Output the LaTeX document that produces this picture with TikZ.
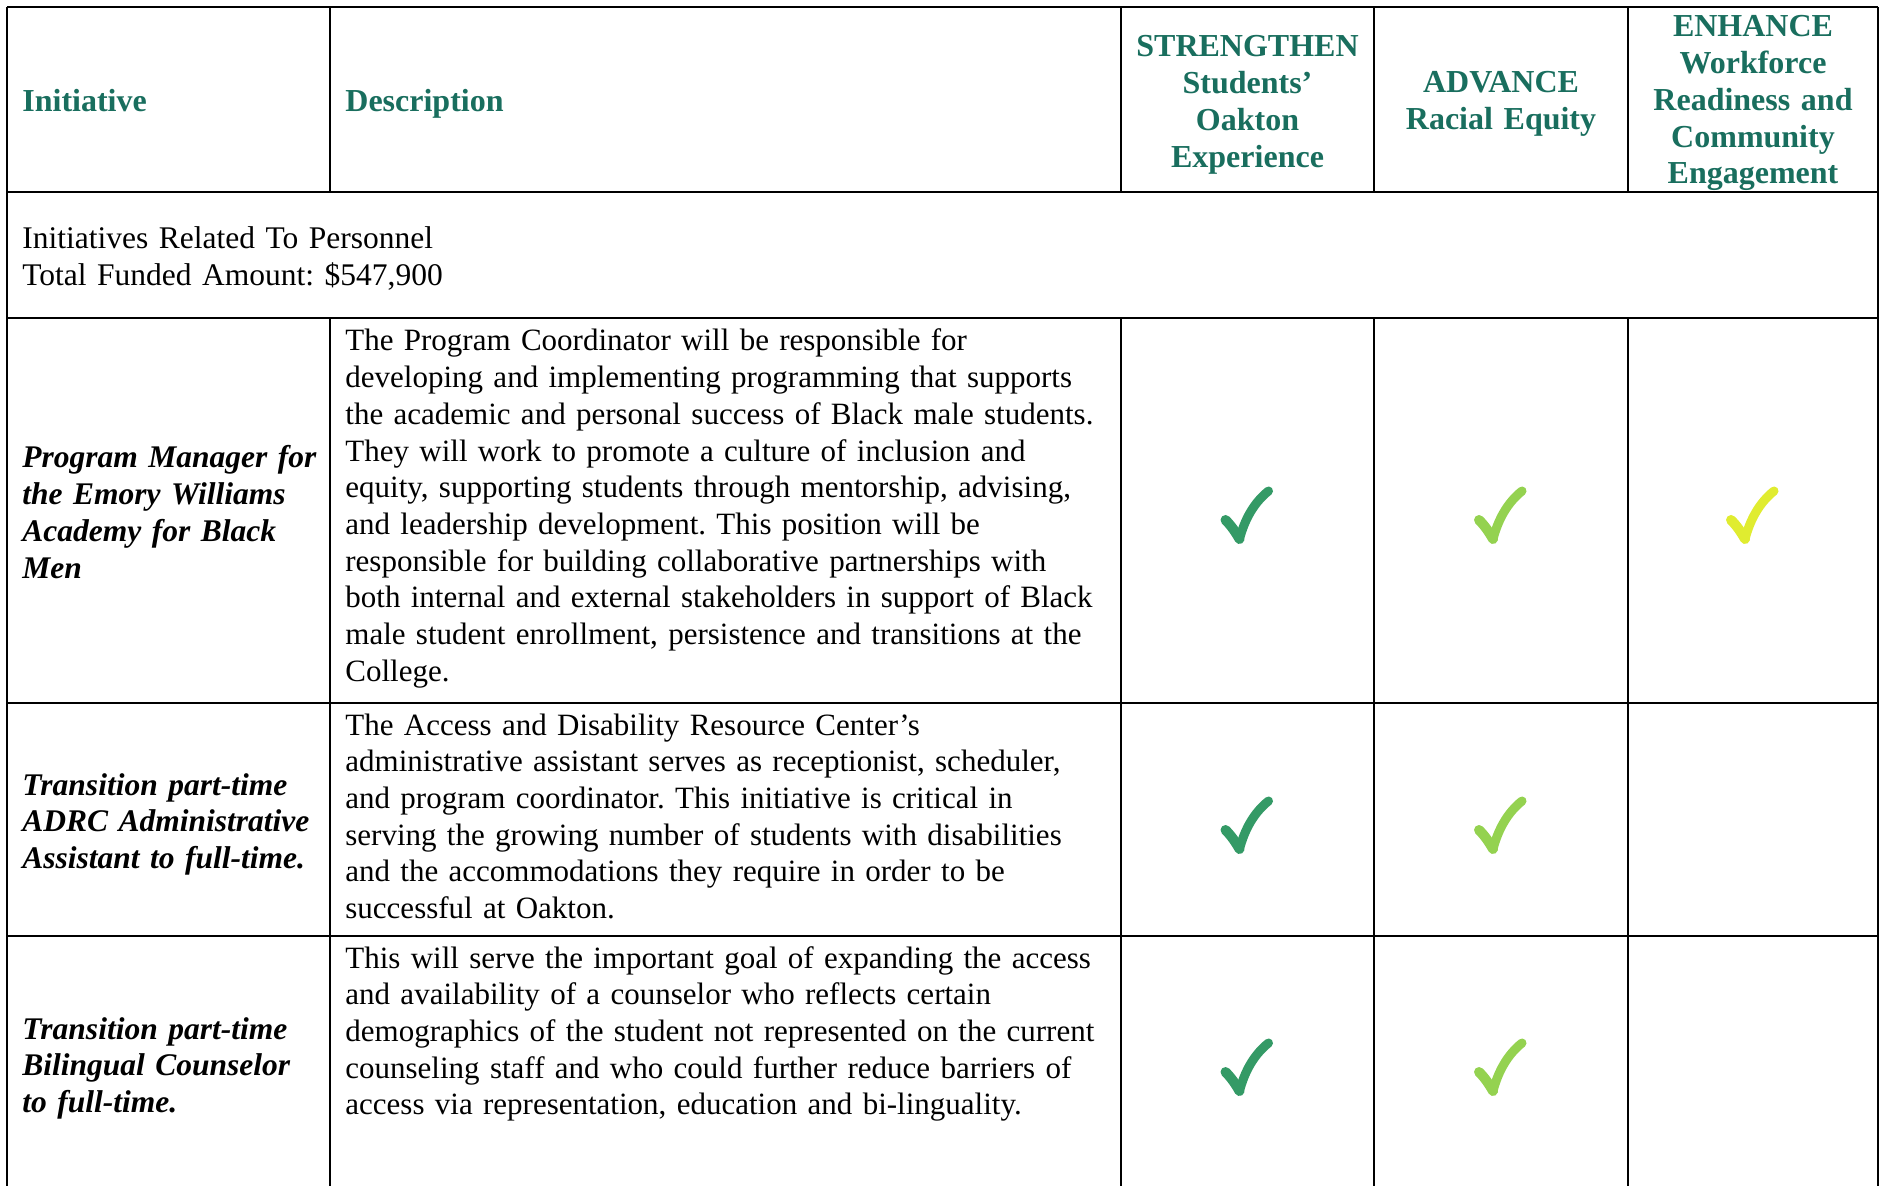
\documentclass[tikz,border=0pt]{standalone}
\usepackage{fontspec}
\setmainfont{Liberation Serif}
\frenchspacing
\definecolor{head}{RGB}{25,110,94}
\definecolor{chkA}{RGB}{52,154,102}
\definecolor{chkB}{RGB}{148,210,80}
\definecolor{chkC}{RGB}{224,236,48}
\tikzset{
  grid/.style={line width=0.85pt, black},
  txt/.style={inner sep=0pt, anchor=base west, align=left, text width=#1,
    font=\fontsize{15.5pt}{18.35pt}\selectfont},
  sectxt/.style={inner sep=0pt, anchor=base west, align=left, text width=#1,
    font=\fontsize{15.75pt}{18.35pt}\selectfont},
  hd/.style={inner sep=0pt, anchor=base, align=center, text width=#1, text=head,
    font=\fontsize{16pt}{18.35pt}\selectfont\bfseries},
  hdl/.style={inner sep=0pt, anchor=base west, align=left, text width=#1, text=head,
    font=\fontsize{16pt}{18.35pt}\selectfont\bfseries},
  ini/.style={inner sep=0pt, anchor=base west, align=left, text width=300pt*0.5,
    font=\fontsize{15.75pt}{18.35pt}\selectfont\bfseries\itshape},
  pics/chk/.style={code={
    \draw[#1, line width=5pt, line cap=round, line join=round]
      (-22,6) .. controls (-16,12) and (-12,18) .. (-8,25);
    \draw[#1, line width=4.5pt, line cap=round, line join=round]
      (-8,25) .. controls (-3,6) and (6,-11) .. (21,-23);
  }}
}
\begin{document}
\begin{tikzpicture}[x=0.5pt,y=-0.5pt]
\useasboundingbox[fill=white] (0,0) rectangle (1883,1186);
% grid lines
\draw[grid] (7,7) -- (1878,7);
\draw[grid] (7,192) -- (1878,192);
\draw[grid] (7,318) -- (1878,318);
\draw[grid] (7,703) -- (1878,703);
\draw[grid] (7,936) -- (1878,936);
\draw[grid] (7,7) -- (7,1186);
\draw[grid] (1878,7) -- (1878,1186);
\foreach \xx in {330,1121,1374,1628}{
  \draw[grid] (\xx,7) -- (\xx,192);
  \draw[grid] (\xx,318) -- (\xx,1186);
}
% header
\node[hdl=280pt*0.5] (hInit) at (22,112) {Initiative};
\node[hdl=700pt*0.5] (hDesc) at (345,112) {Description};
\node[hd=250pt*0.5] (hS) at (1247.5,57) {STRENGTHEN\\Students’\\Oakton\\Experience};
\node[hd=250pt*0.5] (hA) at (1501,93) {ADVANCE\\Racial Equity};
\node[hd=250pt*0.5] (hE) at (1753,37) {ENHANCE\\Workforce\\Readiness and\\Community\\Engagement};
% section row
\node[sectxt=900pt*0.5] (sec) at (22,249) {Initiatives Related To Personnel\\Total Funded Amount: \$547,900};
% row 1
\node[ini] (i1) at (22,468) {Program Manager for\\the Emory Williams\\Academy for Black\\Men};
\node[txt=790pt*0.5] (d1) at (345,351) {The Program Coordinator will be responsible for\\
developing and implementing programming that supports\\
the academic and personal success of Black male students.\\
They will work to promote a culture of inclusion and\\
equity, supporting students through mentorship, advising,\\
and leadership development. This position will be\\
responsible for building collaborative partnerships with\\
both internal and external stakeholders in support of Black\\
male student enrollment, persistence and transitions at the\\
College.};
% row 2
\node[ini] (i2) at (22,795) {Transition part-time\\ADRC Administrative\\Assistant to full-time.};
\node[txt=790pt*0.5] (d2) at (345,735) {The Access and Disability Resource Center’s\\
administrative assistant serves as receptionist, scheduler,\\
and program coordinator. This initiative is critical in\\
serving the growing number of students with disabilities\\
and the accommodations they require in order to be\\
successful at Oakton.};
% row 3
\node[ini] (i3) at (22,1039) {Transition part-time\\Bilingual Counselor\\to full-time.};
\node[txt=790pt*0.5] (d3) at (345,968) {This will serve the important goal of expanding the access\\
and availability of a counselor who reflects certain\\
demographics of the student not represented on the current\\
counseling staff and who could further reduce barriers of\\
access via representation, education and bi-linguality.};
% check marks
\coordinate (c11) at (1247.5,514);
\coordinate (c12) at (1501,514);
\coordinate (c13) at (1753,514);
\coordinate (c21) at (1247.5,824);
\coordinate (c22) at (1501,824);
\coordinate (c31) at (1247.5,1066);
\coordinate (c32) at (1501,1066);
\pic at (c11) {chk=chkA};
\pic at (c12) {chk=chkB};
\pic at (c13) {chk=chkC};
\pic at (c21) {chk=chkA};
\pic at (c22) {chk=chkB};
\pic at (c31) {chk=chkA};
\pic at (c32) {chk=chkB};
\end{tikzpicture}
\end{document}
